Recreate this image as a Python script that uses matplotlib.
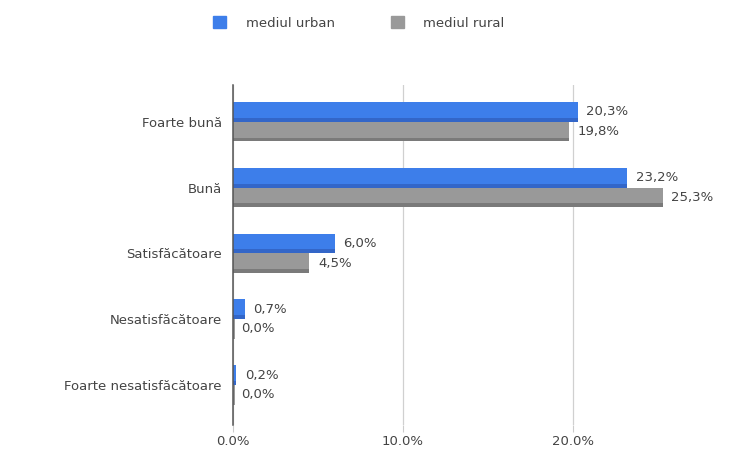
import matplotlib.pyplot as plt
import numpy as np

# Data
categories = ['Foarte bună', 'Bună', 'Satisfăcătoare', 'Nesatisfăcătoare', 'Foarte nesatisfăcătoare']
urban = [20.3, 23.2, 6.0, 0.7, 0.2]
rural = [19.8, 25.3, 4.5, 0.0, 0.0]
series_names = ['mediul urban', 'mediul rural']
xticks = [0, 10, 20]
xtick_labels = ['0.0%', '10.0%', '20.0%']

blue = '#3d7eea'
blue_dark = '#3366c8'
grey = '#999999'
grey_dark = '#7a7a7a'
text_col = '#444444'

fig = plt.figure(figsize=(7.34, 4.59), dpi=100)
ax = fig.add_axes([0.3174, 0.074, 0.924 - 0.3174, 0.741])

y = np.arange(len(categories))
h = 0.30

# main bars
ax.barh(y - h / 2, urban, height=h, color=blue, zorder=3)
ax.barh(y + h / 2, rural, height=h, color=grey, zorder=3)
# darker lower strip for a little 3D look
ax.barh(y - h / 2 + h * 0.40, urban, height=h * 0.20, color=blue_dark, zorder=3)
ax.barh(y + h / 2 + h * 0.40, rural, height=h * 0.20, color=grey_dark, zorder=3)

# zero-value slivers
for i, v in enumerate(rural):
    if v == 0:
        ax.barh(i + h / 2, 0.12, height=h, color=grey, zorder=3)

# value labels
for i in range(len(categories)):
    ax.text(urban[i] + 0.5, i - h / 2, f'{urban[i]:.1f}%'.replace('.', ','),
            va='center', ha='left', fontsize=9.5, color=text_col)
    ax.text(rural[i] + 0.5, i + h / 2, f'{rural[i]:.1f}%'.replace('.', ','),
            va='center', ha='left', fontsize=9.5, color=text_col)

ax.set_xlim(0, 26.2)
ax.set_ylim(4.61, -0.56)
ax.set_yticks(y)
ax.set_yticklabels(categories, fontsize=9.5, color=text_col)
ax.set_xticks(xticks)
ax.set_xticklabels(xtick_labels, fontsize=9.5, color=text_col)
ax.tick_params(axis='y', length=0, pad=8)
ax.tick_params(axis='x', length=5, color='#cccccc', pad=2)

ax.grid(axis='x', color='#d0d0d0', linewidth=0.9, zorder=0)
for s in ['top', 'right', 'bottom']:
    ax.spines[s].set_visible(False)
ax.spines['left'].set_color('#555555')
ax.spines['left'].set_linewidth(1.1)
ax.spines['left'].set_zorder(4)

# legend
handles = [plt.Rectangle((0, 0), 1, 1, color=blue), plt.Rectangle((0, 0), 1, 1, color=grey)]
fig.legend(handles, series_names, loc='center', bbox_to_anchor=(0.489, 0.95), ncol=2,
           frameon=False, fontsize=9.5, labelcolor=text_col, handlelength=1.0,
           handleheight=1.0, columnspacing=4.2, handletextpad=1.5)

plt.savefig('out.png', dpi=100)
